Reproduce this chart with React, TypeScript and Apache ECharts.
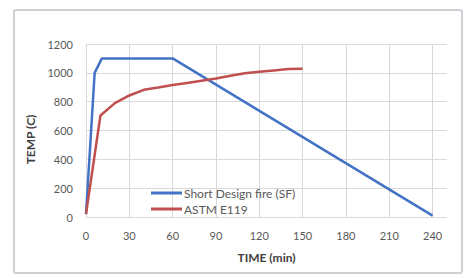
import React, { useEffect, useRef } from "react";
import * as echarts from "echarts";

const sfTime = [0, 6, 11, 60, 240];
const sfTemp = [20, 1000, 1100, 1100, 10];
const astmTime = [0, 10, 20, 30, 40, 50, 60, 70, 80, 90, 100, 110, 120, 130, 140, 150];
const astmTemp = [20, 704, 790, 843, 882, 898, 915, 930, 945, 960, 980, 997, 1007, 1017, 1027, 1028];
const seriesNames = ["Short Design fire (SF)", "ASTM E119"];
const xTitle = "TIME (min)";
const yTitle = "TEMP (C)";

export default function App() {
  const ref = useRef<HTMLDivElement>(null);
  useEffect(() => {
    if (!ref.current) return;
    const chart = echarts.init(ref.current, undefined, { renderer: "svg" });
    const font = "Lato, 'Liberation Sans', sans-serif";
    chart.setOption({
      animation: false,
      backgroundColor: "#ffffff",
      textStyle: { fontFamily: font },
      graphic: [
        {
          type: "rect",
          z: -10,
          silent: true,
          shape: { x: 14, y: 10, width: 448, height: 263, r: 2 },
          style: { fill: "#ffffff", stroke: "#cfcfd6", lineWidth: 2 },
        },
      ],
      grid: { left: 86, right: 17, top: 44, bottom: 61 },
      legend: {
        orient: "vertical",
        left: 146,
        top: 182,
        itemWidth: 31,
        itemHeight: 3,
        itemGap: 4,
        icon: "rect",
        textStyle: { fontSize: 12, color: "#595959", fontFamily: font, padding: [0, 0, 0, -3] },
        data: seriesNames,
      },
      xAxis: {
        type: "value",
        min: 0,
        max: 250,
        interval: 30,
        name: xTitle,
        nameLocation: "middle",
        nameGap: 34,
        nameTextStyle: { fontSize: 12, fontWeight: "bold", color: "#404040", fontFamily: font },
        axisLine: { show: false },
        axisTick: { show: false },
        axisLabel: {
          margin: 13,
          fontSize: 11,
          color: "#595959",
          showMaxLabel: false,
          formatter: (v: number) => (v % 30 === 0 ? String(v) : ""),
        },
        splitLine: { show: true, showMaxLine: false, lineStyle: { color: "#d9d9d9", width: 1 } },
      },
      yAxis: {
        type: "value",
        min: 0,
        max: 1200,
        interval: 200,
        name: yTitle,
        nameLocation: "middle",
        nameGap: 44,
        nameTextStyle: { fontSize: 12, fontWeight: "bold", color: "#404040", fontFamily: font, padding: [0, 18, 0, 0] },
        axisLine: { show: false },
        axisTick: { show: false },
        axisLabel: { margin: 13, fontSize: 11, color: "#595959", formatter: (v: number) => String(v) },
        splitLine: { show: true, lineStyle: { color: "#d9d9d9", width: 1 } },
      },
      series: [
        {
          name: seriesNames[0],
          type: "line",
          data: sfTime.map((t, i) => [t, sfTemp[i]]),
          showSymbol: false,
          symbol: "none",
          lineStyle: { color: "#4472C4", width: 2.5 },
          itemStyle: { color: "#4472C4" },
        },
        {
          name: seriesNames[1],
          type: "line",
          data: astmTime.map((t, i) => [t, astmTemp[i]]),
          showSymbol: false,
          symbol: "none",
          lineStyle: { color: "#C0504D", width: 2.5 },
          itemStyle: { color: "#C0504D" },
        },
      ],
    });
    return () => chart.dispose();
  }, []);
  return (
    <div
      ref={ref}
      style={{ position: "fixed", left: 0, top: 0, width: 464, height: 278 }}
    />
  );
}
